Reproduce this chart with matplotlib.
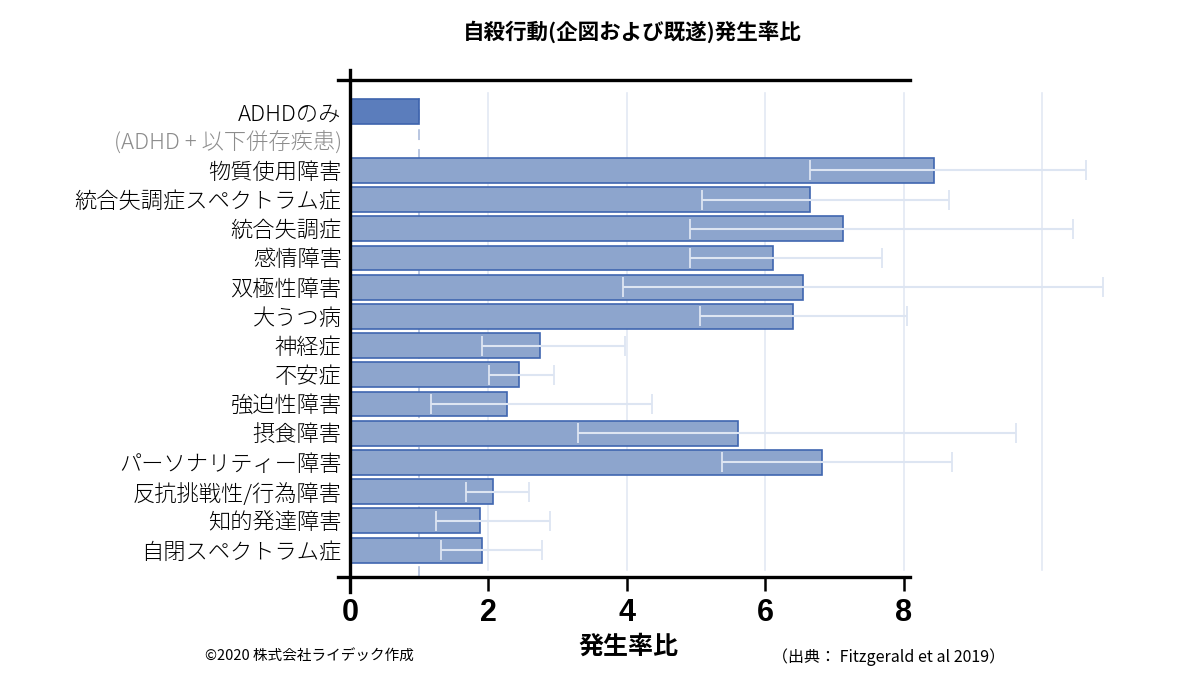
import matplotlib
matplotlib.use('Agg')
from matplotlib import pyplot as plt

plt.rcParams['font.family'] = ['Noto Sans CJK JP', 'DejaVu Sans']

# ADHD only (reference)
adhd_label = 'ADHDのみ'
adhd_value = 1.0
group_label = '(ADHD + 以下併存疾患)'

# ADHD + comorbidity: rate ratio, 95% CI
disorders = ['物質使用障害', '統合失調症スペクトラム症', '統合失調症', '感情障害',
             '双極性障害', '大うつ病', '神経症', '不安症', '強迫性障害', '摂食障害',
             'パーソナリティー障害', '反抗挑戦性/行為障害', '知的発達障害', '自閉スペクトラム症']
ratios = [8.44, 6.65, 7.13, 6.11, 6.55, 6.40, 2.75, 2.44, 2.27, 5.61, 6.82, 2.07, 1.88, 1.91]
ci_low = [6.65, 5.09, 4.91, 4.91, 3.95, 5.06, 1.91, 2.01, 1.17, 3.29, 5.38, 1.68, 1.24, 1.32]
ci_high = [10.64, 8.66, 10.45, 7.69, 10.88, 8.05, 3.97, 2.95, 4.36, 9.62, 8.70, 2.59, 2.89, 2.77]

xticks = [0, 2, 4, 6, 8]

fig = plt.figure(figsize=(12, 6.75), dpi=100)
ax = fig.add_axes([350 / 1200, 1 - 577 / 675, 782 / 1200, 499 / 675])

rows = list(range(2, 2 + len(disorders)))
xmax = 11.3
ax.set_xlim(0, xmax)
ax.set_ylim(15.92, -1.16)

# light grid + reference line
for gx in [2, 4, 6, 8, 10]:
    ax.axvline(gx, ymin=0.015, ymax=0.97, color='#e3e9f4', lw=1.2, zorder=0)
ax.axvline(adhd_value, ymin=0.0, ymax=0.96, color='#b3c1de', lw=1.3, ls=(0, (6, 5)), zorder=0)

ax.barh([0], [adhd_value], height=0.85, color='#5b7dbc', edgecolor='#3d63ad', lw=1.2, zorder=2)
ax.barh(rows, ratios, height=0.85, color='#8da5cd', edgecolor='#3f66b0', lw=1.2, zorder=2)

xerr = [[r - lo for r, lo in zip(ratios, ci_low)], [hi - r for r, hi in zip(ratios, ci_high)]]
ax.errorbar(ratios, rows, xerr=xerr, fmt='none', ecolor='#dde5f2', elinewidth=1.5,
            capsize=7, capthick=1.3, zorder=3)

for s in ax.spines.values():
    s.set_visible(False)

# frame lines like the original
ax.plot([-0.17, 8.09], [-1.10, -1.10], color='black', lw=2.4, clip_on=False, zorder=5)
ax.plot([-0.17, 8.09], [15.92, 15.92], color='black', lw=2.4, clip_on=False, zorder=5)
ax.plot([0, 0], [-1.44, 16.44], color='black', lw=2.4, clip_on=False, zorder=5)

ax.set_yticks([0, 1] + rows)
ax.set_yticklabels([adhd_label, group_label] + disorders, fontsize=16, fontweight='light')
ax.get_yticklabels()[1].set_color('#8c8c8c')
ax.tick_params(axis='y', length=0, pad=6)

ax.set_xticks(xticks)
ax.set_xticklabels([str(t) for t in xticks], fontsize=22, fontweight='bold',
                   family=['Liberation Sans', 'DejaVu Sans'])
ax.tick_params(axis='x', direction='out', length=10, width=1.8, pad=5)

fig.text(0.527, 1 - 32 / 675, '自殺行動(企図および既遂)発生率比', ha='center', va='center',
         fontsize=15.5, fontweight='bold')
fig.text(628 / 1200, 1 - 647 / 675, '発生率比', ha='center', va='center',
         fontsize=18, fontweight='bold')
fig.text(205 / 1200, 1 - 657 / 675, '©2020 株式会社ライデック作成', ha='left', va='center',
         fontsize=10.5)
fig.text(1005 / 1200, 1 - 657 / 675, '（出典： Fitzgerald et al 2019）', ha='right', va='center',
         fontsize=11.5)

fig.savefig('out.png', dpi=100)
